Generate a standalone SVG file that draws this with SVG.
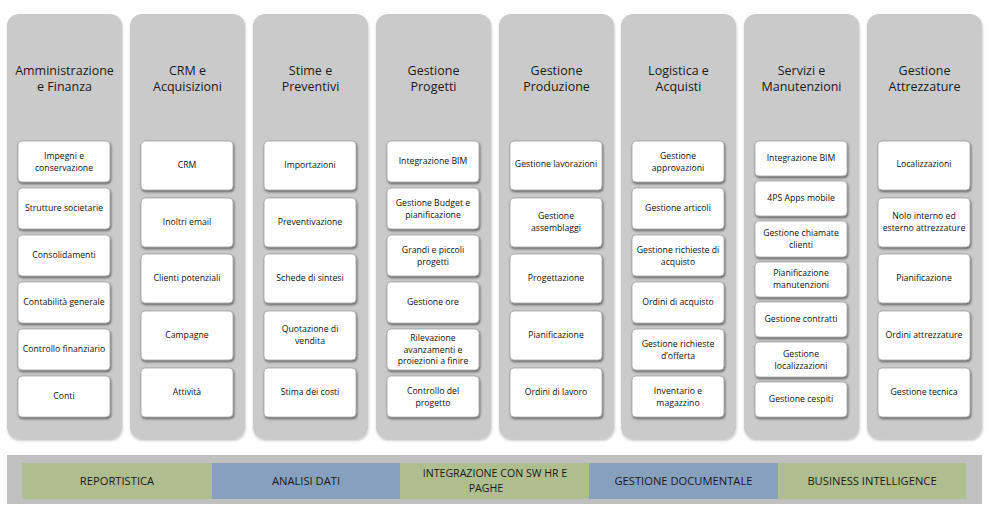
<svg xmlns="http://www.w3.org/2000/svg" width="988" height="511" viewBox="0 0 988 511">
<defs>
<filter id="colsh" x="-10%" y="-5%" width="120%" height="110%"><feDropShadow dx="0.5" dy="1.5" stdDeviation="1.2" flood-color="#000" flood-opacity="0.25"/></filter>
<filter id="boxsh" x="-10%" y="-10%" width="120%" height="130%"><feDropShadow dx="0.8" dy="1.6" stdDeviation="0.9" flood-color="#000" flood-opacity="0.55"/></filter>
<style>
.col{fill:#cacaca;filter:url(#colsh)}
.box{fill:#ffffff;stroke:#9a9a9a;stroke-width:0.7;filter:url(#boxsh)}
.t{font-family:"Open Sans","Liberation Sans",sans-serif;font-size:12.5px;fill:#1a1a1a;text-anchor:middle}
.b{font-family:"Open Sans","Liberation Sans",sans-serif;font-size:8.7px;fill:#111;text-anchor:middle;dominant-baseline:central}
.bar{font-family:"Open Sans","Liberation Sans",sans-serif;font-size:11.2px;fill:#1a1a1a;text-anchor:middle}
.bar2{font-size:10.6px}
.g{fill:#aebe8e}
.bl{fill:#86a0be}
</style>
</defs>
<rect width="988" height="511" fill="#ffffff"/>

<g id="col-amministrazione">
<rect class="col" x="7" y="14" width="115" height="425" rx="12"/>
<text class="t" x="64.5" y="75">Amministrazione</text><text class="t" x="64.5" y="91">e Finanza</text>
<g id="n-impegni"><rect class="box" x="18" y="141" width="92" height="41" rx="4"/><text class="b" x="64" y="155.5">Impegni e</text><text class="b" x="64" y="167.5">conservazione</text></g>
<g id="n-strutture"><rect class="box" x="18" y="188" width="92" height="41" rx="4"/><text class="b" x="64" y="208">Strutture societarie</text></g>
<g id="n-consolidamenti"><rect class="box" x="18" y="235" width="92" height="41" rx="4"/><text class="b" x="64" y="255">Consolidamenti</text></g>
<g id="n-contabilita"><rect class="box" x="18" y="282" width="92" height="41" rx="4"/><text class="b" x="64" y="302">Contabilità generale</text></g>
<g id="n-controllo-fin"><rect class="box" x="18" y="329" width="92" height="41" rx="4"/><text class="b" x="64" y="349">Controllo finanziario</text></g>
<g id="n-conti"><rect class="box" x="18" y="376" width="92" height="41" rx="4"/><text class="b" x="64" y="396">Conti</text></g>
</g>

<g id="col-crm">
<rect class="col" x="130" y="14" width="115" height="425" rx="12"/>
<text class="t" x="187.5" y="75">CRM e</text><text class="t" x="187.5" y="91">Acquisizioni</text>
<g id="n-crm"><rect class="box" x="141" y="141" width="92" height="49" rx="4"/><text class="b" x="187" y="165">CRM</text></g>
<g id="n-inoltri"><rect class="box" x="141" y="198" width="92" height="49" rx="4"/><text class="b" x="187" y="222">Inoltri email</text></g>
<g id="n-clienti"><rect class="box" x="141" y="254" width="92" height="49" rx="4"/><text class="b" x="187" y="278">Clienti potenziali</text></g>
<g id="n-campagne"><rect class="box" x="141" y="311" width="92" height="49" rx="4"/><text class="b" x="187" y="335">Campagne</text></g>
<g id="n-attivita"><rect class="box" x="141" y="368" width="92" height="49" rx="4"/><text class="b" x="187" y="392">Attività</text></g>
</g>

<g id="col-stime">
<rect class="col" x="253" y="14" width="115" height="425" rx="12"/>
<text class="t" x="310.5" y="75">Stime e</text><text class="t" x="310.5" y="91">Preventivi</text>
<g id="n-importazioni"><rect class="box" x="264" y="141" width="92" height="49" rx="4"/><text class="b" x="310" y="165">Importazioni</text></g>
<g id="n-preventivazione"><rect class="box" x="264" y="198" width="92" height="49" rx="4"/><text class="b" x="310" y="222">Preventivazione</text></g>
<g id="n-schede"><rect class="box" x="264" y="254" width="92" height="49" rx="4"/><text class="b" x="310" y="278">Schede di sintesi</text></g>
<g id="n-quotazione"><rect class="box" x="264" y="311" width="92" height="49" rx="4"/><text class="b" x="310" y="329">Quotazione di</text><text class="b" x="310" y="341">vendita</text></g>
<g id="n-stima"><rect class="box" x="264" y="368" width="92" height="49" rx="4"/><text class="b" x="310" y="392">Stima dei costi</text></g>
</g>

<g id="col-progetti">
<rect class="col" x="376" y="14" width="115" height="425" rx="12"/>
<text class="t" x="433.5" y="75">Gestione</text><text class="t" x="433.5" y="91">Progetti</text>
<g id="n-bim1"><rect class="box" x="387" y="141" width="92" height="41" rx="4"/><text class="b" x="433" y="161">Integrazione BIM</text></g>
<g id="n-budget"><rect class="box" x="387" y="188" width="92" height="41" rx="4"/><text class="b" x="433" y="202.5">Gestione Budget e</text><text class="b" x="433" y="214.5">pianificazione</text></g>
<g id="n-grandi"><rect class="box" x="387" y="235" width="92" height="41" rx="4"/><text class="b" x="433" y="249.5">Grandi e piccoli</text><text class="b" x="433" y="261.5">progetti</text></g>
<g id="n-ore"><rect class="box" x="387" y="282" width="92" height="41" rx="4"/><text class="b" x="433" y="302">Gestione ore</text></g>
<g id="n-rilevazione"><rect class="box" x="387" y="329" width="92" height="41" rx="4"/><text class="b" x="433" y="338">Rilevazione</text><text class="b" x="433" y="349.5">avanzamenti e</text><text class="b" x="433" y="361">proiezioni a finire</text></g>
<g id="n-controllo-prog"><rect class="box" x="387" y="376" width="92" height="41" rx="4"/><text class="b" x="433" y="390.5">Controllo del</text><text class="b" x="433" y="402.5">progetto</text></g>
</g>

<g id="col-produzione">
<rect class="col" x="499" y="14" width="115" height="425" rx="12"/>
<text class="t" x="556.5" y="75">Gestione</text><text class="t" x="556.5" y="91">Produzione</text>
<g id="n-lavorazioni"><rect class="box" x="510" y="141" width="92" height="49" rx="4"/><text class="b" x="556" y="164">Gestione lavorazioni</text></g>
<g id="n-assemblaggi"><rect class="box" x="510" y="198" width="92" height="49" rx="4"/><text class="b" x="556" y="216">Gestione</text><text class="b" x="556" y="228">assemblaggi</text></g>
<g id="n-progettazione"><rect class="box" x="510" y="254" width="92" height="49" rx="4"/><text class="b" x="556" y="278">Progettazione</text></g>
<g id="n-pian-prod"><rect class="box" x="510" y="311" width="92" height="49" rx="4"/><text class="b" x="556" y="335">Pianificazione</text></g>
<g id="n-ordini-lav"><rect class="box" x="510" y="368" width="92" height="49" rx="4"/><text class="b" x="556" y="392">Ordini di lavoro</text></g>
</g>

<g id="col-logistica">
<rect class="col" x="621" y="14" width="115" height="425" rx="12"/>
<text class="t" x="678.5" y="75">Logistica e</text><text class="t" x="678.5" y="91">Acquisti</text>
<g id="n-approvazioni"><rect class="box" x="632" y="141" width="92" height="41" rx="4"/><text class="b" x="678" y="155.5">Gestione</text><text class="b" x="678" y="167.5">approvazioni</text></g>
<g id="n-articoli"><rect class="box" x="632" y="188" width="92" height="41" rx="4"/><text class="b" x="678" y="208">Gestione articoli</text></g>
<g id="n-rich-acq"><rect class="box" x="632" y="235" width="92" height="41" rx="4"/><text class="b" x="678" y="249.5">Gestione richieste di</text><text class="b" x="678" y="261.5">acquisto</text></g>
<g id="n-ordini-acq"><rect class="box" x="632" y="282" width="92" height="41" rx="4"/><text class="b" x="678" y="302">Ordini di acquisto</text></g>
<g id="n-rich-off"><rect class="box" x="632" y="329" width="92" height="41" rx="4"/><text class="b" x="678" y="343.5">Gestione richieste</text><text class="b" x="678" y="355.5">d’offerta</text></g>
<g id="n-inventario"><rect class="box" x="632" y="376" width="92" height="41" rx="4"/><text class="b" x="678" y="390.5">Inventario e</text><text class="b" x="678" y="402.5">magazzino</text></g>
</g>

<g id="col-servizi">
<rect class="col" x="744" y="14" width="115" height="425" rx="12"/>
<text class="t" x="801.5" y="75">Servizi e</text><text class="t" x="801.5" y="91">Manutenzioni</text>
<g id="n-bim2"><rect class="box" x="755" y="141" width="92" height="35" rx="4"/><text class="b" x="801" y="158">Integrazione BIM</text></g>
<g id="n-4ps"><rect class="box" x="755" y="181" width="92" height="35" rx="4"/><text class="b" x="801" y="198">4PS Apps mobile</text></g>
<g id="n-chiamate"><rect class="box" x="755" y="221" width="92" height="36" rx="4"/><text class="b" x="801" y="232.5">Gestione chiamate</text><text class="b" x="801" y="244.5">clienti</text></g>
<g id="n-pian-man"><rect class="box" x="755" y="262" width="92" height="35" rx="4"/><text class="b" x="801" y="273">Pianificazione</text><text class="b" x="801" y="285">manutenzioni</text></g>
<g id="n-contratti"><rect class="box" x="755" y="302" width="92" height="35" rx="4"/><text class="b" x="801" y="319">Gestione contratti</text></g>
<g id="n-localizz"><rect class="box" x="755" y="342" width="92" height="35" rx="4"/><text class="b" x="801" y="353.5">Gestione</text><text class="b" x="801" y="365.5">localizzazioni</text></g>
<g id="n-cespiti"><rect class="box" x="755" y="382" width="92" height="35" rx="4"/><text class="b" x="801" y="399">Gestione cespiti</text></g>
</g>

<g id="col-attrezzature">
<rect class="col" x="867" y="14" width="115" height="425" rx="12"/>
<text class="t" x="924.5" y="75">Gestione</text><text class="t" x="924.5" y="91">Attrezzature</text>
<g id="n-localizzazioni"><rect class="box" x="878" y="141" width="92" height="49" rx="4"/><text class="b" x="924" y="164">Localizzazioni</text></g>
<g id="n-nolo"><rect class="box" x="878" y="198" width="92" height="49" rx="4"/><text class="b" x="924" y="216">Nolo interno ed</text><text class="b" x="924" y="228">esterno attrezzature</text></g>
<g id="n-pian-attr"><rect class="box" x="878" y="254" width="92" height="49" rx="4"/><text class="b" x="924" y="278">Pianificazione</text></g>
<g id="n-ordini-attr"><rect class="box" x="878" y="311" width="92" height="49" rx="4"/><text class="b" x="924" y="335">Ordini attrezzature</text></g>
<g id="n-tecnica"><rect class="box" x="878" y="368" width="92" height="49" rx="4"/><text class="b" x="924" y="392">Gestione tecnica</text></g>
</g>

<g id="bottom-bar">
<rect x="7" y="455" width="975" height="49" fill="#c0c0c0"/>
<g id="n-reportistica"><rect class="g" x="22" y="463" width="190" height="36"/><text class="bar" x="117" y="485">REPORTISTICA</text></g>
<g id="n-analisi"><rect class="bl" x="212" y="463" width="188" height="36"/><text class="bar" x="306" y="485">ANALISI DATI</text></g>
<g id="n-integrazione"><rect class="g" x="400" y="463" width="189" height="36"/><text class="bar bar2" x="495" y="477">INTEGRAZIONE CON SW HR E</text><text class="bar bar2" x="486" y="491.5">PAGHE</text></g>
<g id="n-documentale"><rect class="bl" x="589" y="463" width="189" height="36"/><text class="bar" x="683.5" y="485">GESTIONE DOCUMENTALE</text></g>
<g id="n-bi"><rect class="g" x="778" y="463" width="188" height="36"/><text class="bar" x="872" y="485">BUSINESS INTELLIGENCE</text></g>
</g>
<g id="connectors"></g>
</svg>
